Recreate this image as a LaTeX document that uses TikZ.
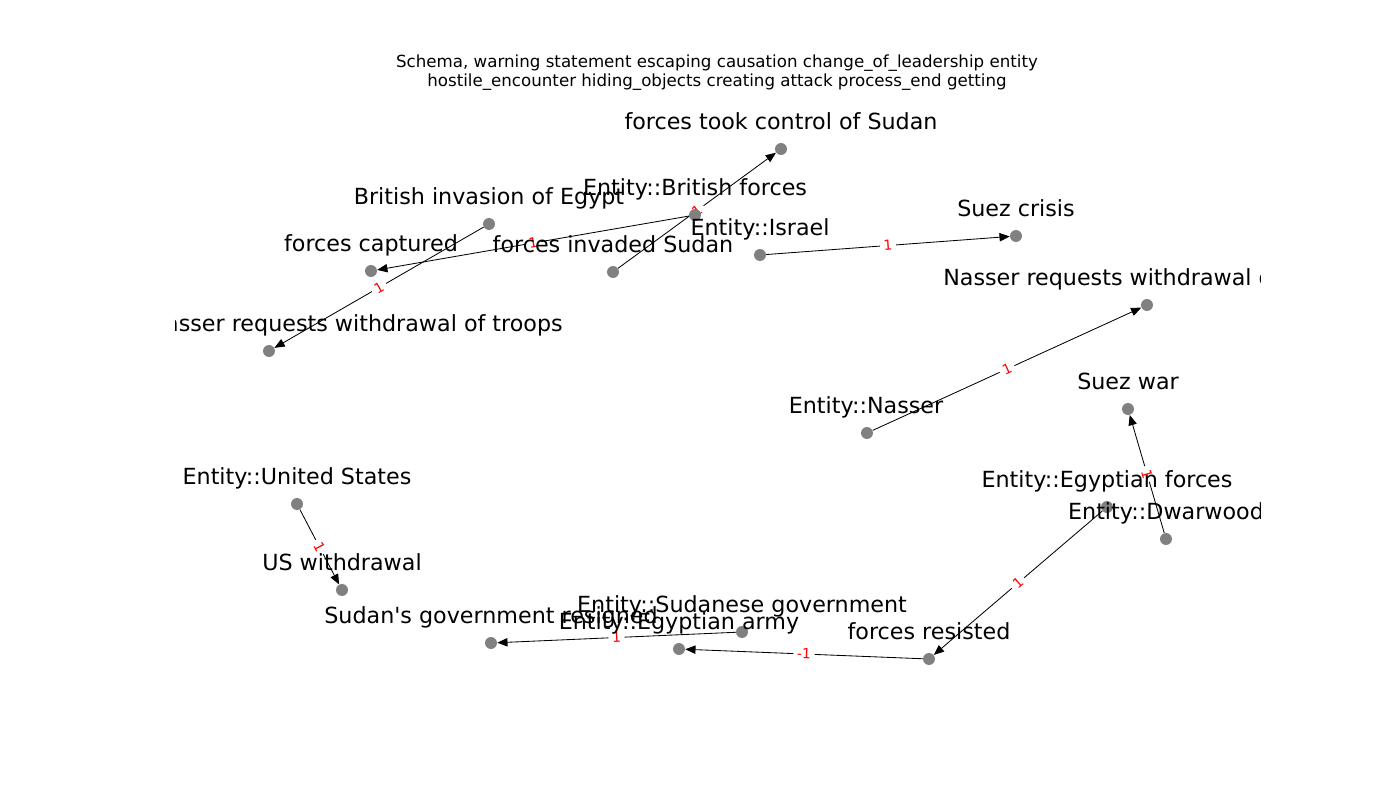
\documentclass[tikz,border=0pt]{standalone}
\usepackage{fontspec}
\setmainfont[Ligatures=NoCommon]{DejaVu Sans}
\usetikzlibrary{arrows.meta}
\pgfdeclarelayer{edgelayer}
\pgfdeclarelayer{lbllayer}
\pgfsetlayers{edgelayer,main,lbllayer}
\begin{document}
\tikzset{
  dot/.style={circle, fill=gray, inner sep=0pt, minimum size=8.6pt},
  lbl/.style={font=\fontsize{16}{19}\selectfont, inner sep=0pt, anchor=base},
  edge/.style={draw=black, line width=0.6pt, -{Triangle[length=7.4pt,width=6pt]}},
  elbl/.style={font=\fontsize{10}{12}\selectfont, text=red, fill=white, rounded corners=2pt, inner sep=2.6pt, sloped, midway},
  ttl/.style={font=\fontsize{12}{14}\selectfont, inner sep=0pt, anchor=base},
}
\begin{tikzpicture}[x=0.72pt,y=-0.72pt]
\useasboundingbox (0,0) rectangle (1400,800);
% nodes
\node[dot] (bie)   at (489,224) {};
\node[dot] (fcap)  at (371,271) {};
\node[dot] (nrwL)  at (269,351) {};
\node[dot] (finv)  at (613,272) {};
\node[dot] (ebf)   at (695,215) {};
\node[dot] (ftc)   at (781,149) {};
\node[dot] (eis)   at (760,255) {};
\node[dot] (suezc) at (1016,236) {};
\node[dot] (nrwR)  at (1147,305) {};
\node[dot] (enas)  at (867,433) {};
\node[dot] (suezw) at (1128,409) {};
\node[dot] (eef)   at (1107,507) {};
\node[dot] (edw)   at (1166,539) {};
\node[dot] (eus)   at (297,504) {};
\node[dot] (usw)   at (342,590) {};
\node[dot] (sgr)   at (491,643) {};
\node[dot] (esg)   at (742,632) {};
\node[dot] (eea)   at (679,649) {};
\node[dot] (fres)  at (929,659) {};
% edges
\begin{pgfonlayer}{edgelayer}
\draw[edge] (bie) -- node[elbl]{1} (nrwL);
\draw[edge] (ebf) -- node[elbl]{1} (fcap);
\draw[edge] (finv) -- node[elbl]{1} (ftc);
\draw[edge] (eis) -- node[elbl]{1} (suezc);
\draw[edge] (enas) -- node[elbl]{1} (nrwR);
\draw[edge] (edw) -- node[elbl]{1} (suezw);
\draw[edge] (eef) -- node[elbl]{1} (fres);
\draw[edge] (eus) -- node[elbl]{1} (usw);
\draw[edge] (esg) -- node[elbl]{1} (sgr);
\draw[edge] (fres) -- node[elbl]{-1} (eea);
\end{pgfonlayer}
% labels
\begin{pgfonlayer}{lbllayer}
\begin{scope}
\clip (175,96) rectangle (1260,712);
\node[lbl] (bie-l)   at (489,204) {British invasion of Egypt};
\node[lbl] (fcap-l)  at (371,251) {forces captured};
\node[lbl, anchor=base east] (nrwL-l) at (563,331) {Nasser requests withdrawal of troops};
\node[lbl] (finv-l)  at (613,252) {forces invaded Sudan};
\node[lbl] (ebf-l)   at (695,195) {Entity::British forces};
\node[lbl] (ftc-l)   at (781,129) {forces took control of Sudan};
\node[lbl] (eis-l)   at (760,235) {Entity::Israel};
\node[lbl] (suezc-l) at (1016,216) {Suez crisis};
\node[lbl, anchor=base west] (nrwR-l) at (943,285) {Nasser requests withdrawal of troops};
\node[lbl] (enas-l)  at (866,413) {Entity::Nasser};
\node[lbl] (suezw-l) at (1128,389) {Suez war};
\node[lbl] (eef-l)   at (1107,487) {Entity::Egyptian forces};
\node[lbl] (edw-l)   at (1166,519) {Entity::Dwarwood};
\node[lbl] (eus-l)   at (297,484) {Entity::United States};
\node[lbl] (usw-l)   at (342,570) {US withdrawal};
\node[lbl] (sgr-l)   at (491,623) {Sudan\textquotesingle s government resigned};
\node[lbl] (esg-l)   at (742,612) {Entity::Sudanese government};
\node[lbl] (eea-l)   at (679,629) {Entity::Egyptian army};
\node[lbl] (fres-l)  at (929,639) {forces resisted};
\end{scope}
\end{pgfonlayer}
% title
\node[ttl] (title1) at (717,67.5) {Schema, warning statement escaping causation change\_of\_leadership entity};
\node[ttl] (title2) at (717,86.5) {hostile\_encounter hiding\_objects creating attack process\_end getting};
\end{tikzpicture}
\end{document}
